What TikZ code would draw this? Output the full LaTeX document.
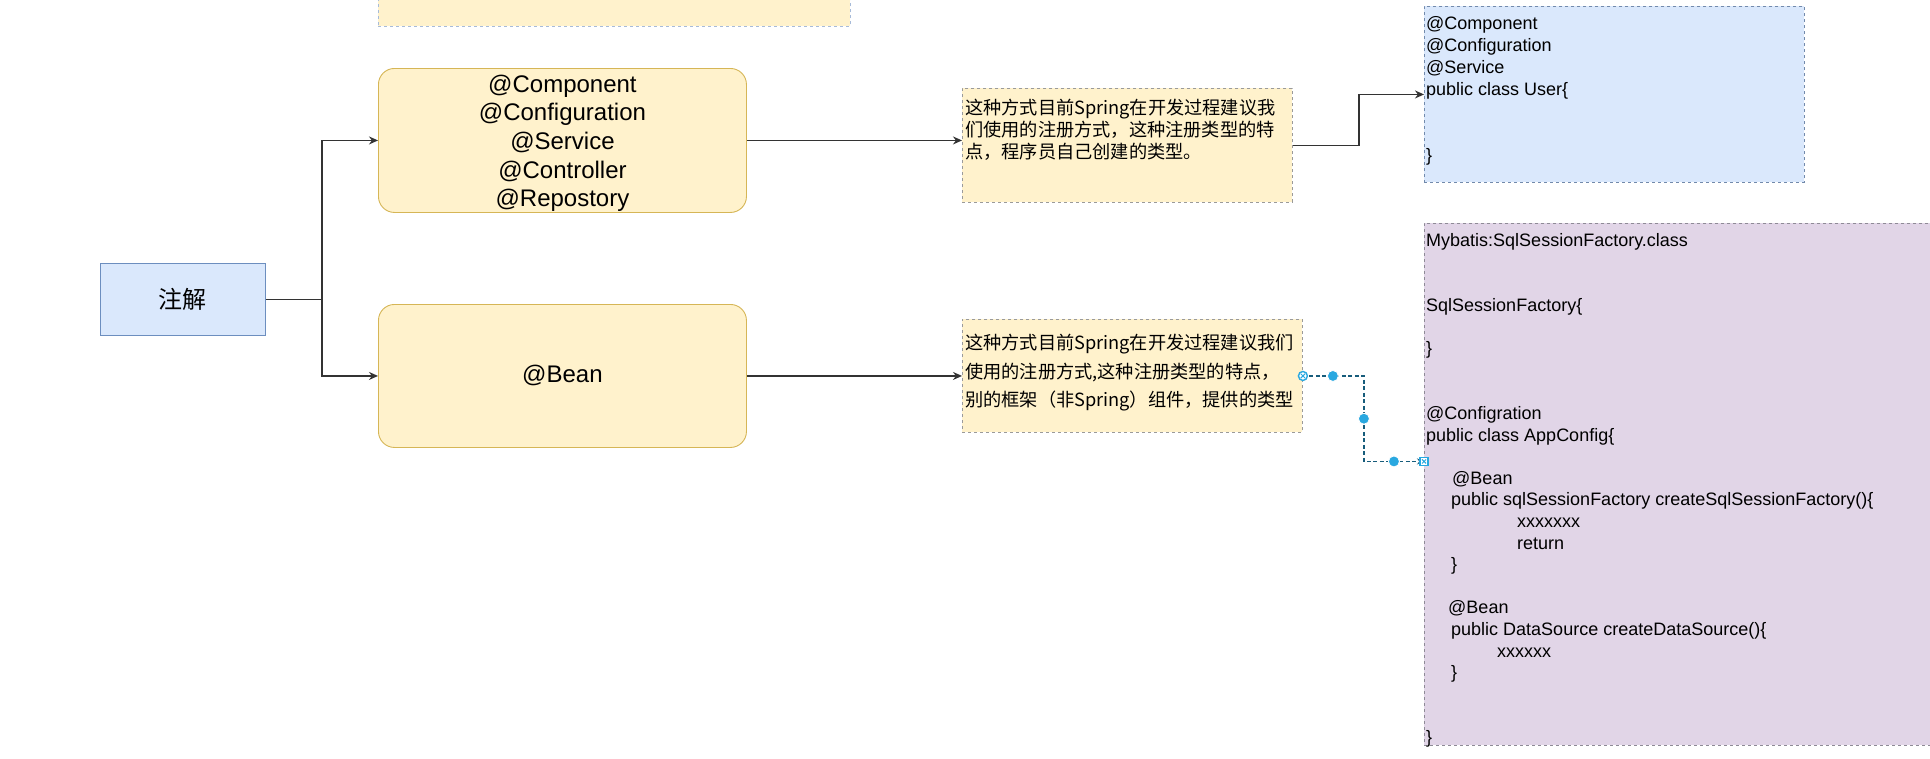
\documentclass[tikz,border=0pt]{standalone}
\usepackage{fontspec}
\setmainfont{Liberation Sans}
\newfontfamily\cjk{Noto Sans CJK SC}
\usetikzlibrary{arrows.meta,calc}
\definecolor{yfill}{HTML}{FFF2CC}
\definecolor{ydraw}{HTML}{D6B656}
\definecolor{bfill}{HTML}{DAE8FC}
\definecolor{bdraw}{HTML}{6C8EBF}
\definecolor{pfill}{HTML}{E1D5E7}
\definecolor{pdraw}{HTML}{8E8A96}
\definecolor{selblue}{HTML}{29A8E0}
\definecolor{linec}{HTML}{333333}
\definecolor{dashc}{HTML}{9A9A9A}
\begin{document}
\begin{tikzpicture}[x=1pt,y=-1pt,
  base/.style={anchor=north west, inner sep=0pt, line width=0.9pt},
  roundbox/.style={base, draw=ydraw, fill=yfill, rounded corners=16pt, align=center,
     font=\fontsize{24}{28.6}\selectfont},
  notebox/.style={base, draw=dashc, fill=yfill, dash pattern=on 3pt off 3pt},
  bluebox/.style={base, draw=bdraw, fill=bfill},
  codebox/.style={base, draw=dashc, dash pattern=on 3pt off 3pt},
  txt/.style={anchor=north west, inner sep=0pt, align=left},
  conn/.style={draw=linec, line width=1.3pt, -{Stealth[length=9pt,width=8pt]}},
  selconn/.style={draw=selblue!55!black, line width=1.3pt, dash pattern=on 4pt off 2.5pt,
     -{Stealth[length=7pt,width=6pt]}},
  handle/.style={fill=selblue, draw=white, line width=0.8pt}
]
\useasboundingbox (0,0) rectangle (1930,758);
\clip (0,0) rectangle (1930,758);
\fill[white] (0,0) rectangle (1930,758);

% top partial box
\node[notebox, draw=bdraw!60, minimum width=472pt, minimum height=46pt] (topbox) at (378,-20) {};

% left
\node[bluebox, minimum width=165pt, minimum height=72pt, font=\cjk\fontsize{24}{28}\selectfont] (zj) at (100,263) {注解};
\node[roundbox, minimum width=368pt, minimum height=144pt] (comp) at (378,68)
  {\rule{0pt}{23pt}@Component\\@Configuration\\@Service\\@Controller\\@Repostory};
\node[roundbox, minimum width=368pt, minimum height=143pt] (bean) at (378,304) {@Bean};

% notes
\node[notebox, minimum width=330pt, minimum height=114pt] (n1) at (962,88) {};
\node[txt, font=\cjk\fontsize{18.2}{22}\selectfont] (n1t) at (965,98.8)
  {\strut 这种方式目前Spring在开发过程建议我\\们使用的注册方式，这种注册类型的特\\点，程序员自己创建的类型。};
\node[notebox, minimum width=340pt, minimum height=113pt] (n2) at (962,319) {};
\node[txt, font=\cjk\fontsize{18.2}{28.5}\selectfont] (n2t) at (965,329.5)
  {\strut 这种方式目前Spring在开发过程建议我们\\使用的注册方式,这种注册类型的特点，\\别的框架（非Spring）组件，提供的类型};

% code boxes
\node[codebox, fill=bfill, draw=bdraw!70!gray, minimum width=380pt, minimum height=176pt] (user) at (1424,6) {};
\node[txt, font=\fontsize{18}{22}\selectfont] (usert) at (1426,14.1)
  {\strut @Component\\@Configuration\\@Service\\public class User\{\\[44pt]\}};

\node[codebox, fill=pfill, draw=pdraw, minimum width=600pt, minimum height=522pt] (cfg) at (1424,223) {};
\node[txt, font=\fontsize{18}{21.6}\selectfont] (cfgt) at (1426,231.4)
  {\strut Mybatis:SqlSessionFactory.class\\[43.2pt]
   SqlSessionFactory\{\\[21.6pt]
   \}\\[43.2pt]
   @Configration\\
   public class AppConfig\{\\[21.6pt]
   \hspace*{26pt}@Bean\\
   \hspace*{25pt}public sqlSessionFactory createSqlSessionFactory()\{\\
   \hspace*{91pt}xxxxxxx\\
   \hspace*{91pt}return\\
   \hspace*{25pt}\}\\[21.6pt]
   \hspace*{22pt}@Bean\\
   \hspace*{25pt}public DataSource createDataSource()\{\\
   \hspace*{71pt}xxxxxx\\
   \hspace*{25pt}\}\\[43.2pt]
   \}};

% connectors
\draw[conn] (zj.east) -- ++(56,0) |- (comp.west);
\draw[conn] (zj.east) -- ++(56,0) |- (bean.west);
\draw[conn] (comp.east) -- (comp.east -| n1.west);
\draw[conn] (bean.east) -- (bean.east -| n2.west);
\draw[conn] (n1.east) -- ++(66,0) |- (user.west);

\coordinate (cfgin) at ([yshift=23pt]cfg.west);
\draw[selconn] (n2.east) -- ++(61,0) coordinate (bend) |- (cfgin);
\coordinate (h1) at ($(n2.east)+(30,0)$);
\coordinate (h2) at ($(bend)!0.5!(bend |- cfgin)$);
\coordinate (h3) at ($(bend |- cfgin)!0.5!(cfgin)$);
\fill[handle] (h1) circle (5.5pt);
\fill[handle] (h2) circle (5.5pt);
\fill[handle] (h3) circle (5.5pt);
\draw[fill=white, draw=selblue, line width=1.4pt] (n2.east) circle (4.5pt);
\draw[selblue, line width=1pt] ($(n2.east)+(-2.2,-2.2)$) -- ($(n2.east)+(2.2,2.2)$)
  ($(n2.east)+(-2.2,2.2)$) -- ($(n2.east)+(2.2,-2.2)$);
\draw[fill=white, draw=selblue, line width=1.3pt] ($(cfgin)+(-4,-4)$) rectangle ($(cfgin)+(4,4)$);
\draw[selblue, line width=1pt] ($(cfgin)+(-2,-2)$) -- ($(cfgin)+(2,2)$)
  ($(cfgin)+(-2,2)$) -- ($(cfgin)+(2,-2)$);
\end{tikzpicture}
\end{document}
